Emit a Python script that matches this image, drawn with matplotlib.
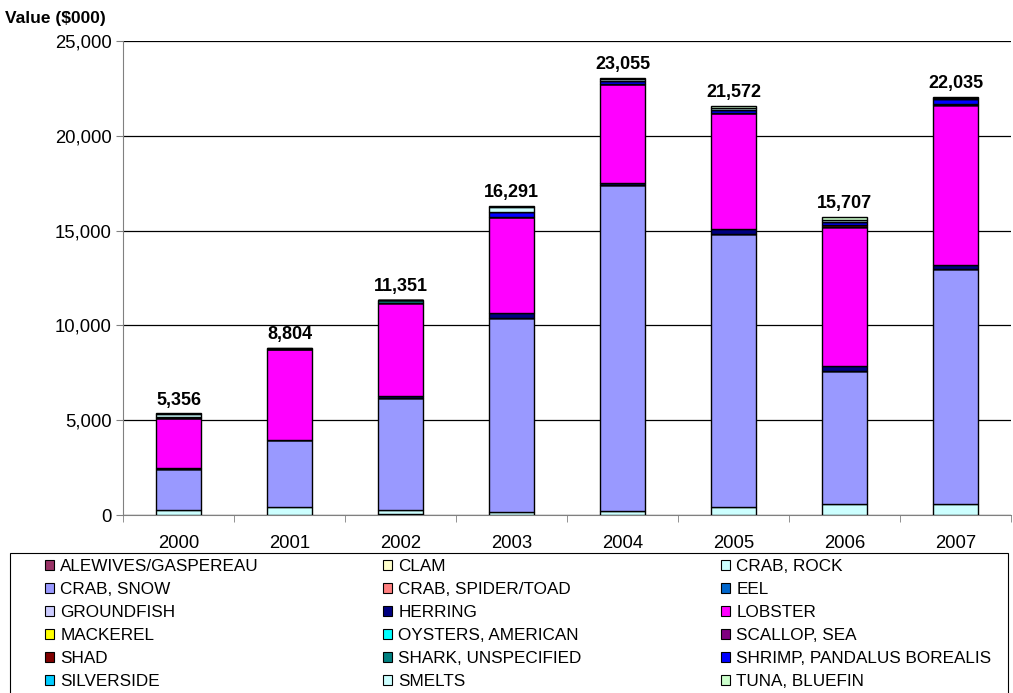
import numpy as np
import matplotlib
matplotlib.use("Agg")
import matplotlib.pyplot as plt
from matplotlib.patches import Patch, Rectangle

plt.rcParams['font.family'] = ['Liberation Sans', 'DejaVu Sans']

years = ['2000', '2001', '2002', '2003', '2004', '2005', '2006', '2007']

# landed value by species, $000
alewives   = [0, 0, 60, 0, 0, 0, 0, 0]
clam       = [0, 0, 0, 0, 0, 0, 0, 0]
crab_rock  = [260, 400, 230, 150, 230, 430, 560, 560]
crab_snow  = [2170, 3540, 5860, 10220, 17170, 14370, 7040, 12440]
crab_spider = [0, 0, 0, 0, 0, 0, 0, 0]
eel        = [0, 0, 0, 0, 0, 0, 0, 0]
groundfish = [0, 0, 0, 0, 0, 0, 0, 0]
herring    = [40, 20, 150, 300, 100, 300, 250, 200]
lobster    = [2660, 4820, 4870, 5060, 5250, 6100, 7350, 8400]
mackerel   = [0, 0, 0, 0, 0, 0, 0, 0]
oysters    = [0, 0, 0, 0, 0, 0, 0, 0]
scallop    = [0, 0, 0, 0, 0, 0, 0, 0]
shad       = [0, 0, 0, 0, 0, 0, 100, 80]
shark      = [0, 0, 181, 0, 0, 0, 0, 0]
shrimp     = [30, 0, 0, 250, 150, 150, 150, 250]
silverside = [0, 0, 0, 0, 0, 0, 0, 0]
smelts     = [150, 24, 0, 250, 105, 100, 120, 60]
tuna       = [46, 0, 0, 61, 50, 122, 137, 45]

species = ['ALEWIVES/GASPEREAU', 'CLAM', 'CRAB, ROCK',
           'CRAB, SNOW', 'CRAB, SPIDER/TOAD', 'EEL',
           'GROUNDFISH', 'HERRING', 'LOBSTER',
           'MACKEREL', 'OYSTERS, AMERICAN', 'SCALLOP, SEA',
           'SHAD', 'SHARK, UNSPECIFIED', 'SHRIMP, PANDALUS BOREALIS',
           'SILVERSIDE', 'SMELTS', 'TUNA, BLUEFIN']
series = [alewives, clam, crab_rock, crab_snow, crab_spider, eel,
          groundfish, herring, lobster, mackerel, oysters, scallop,
          shad, shark, shrimp, silverside, smelts, tuna]
colours = ['#993366', '#FFFFCC', '#CCFFFF', '#9999FF', '#FF8080', '#0066CC',
           '#CCCCFF', '#000080', '#FF00FF', '#FFFF00', '#00FFFF', '#800080',
           '#800000', '#008080', '#0000FF', '#00CCFF', '#CCFFFF', '#CCFFCC']

W, H = 1013, 693
fig = plt.figure(figsize=(W / 100, H / 100), dpi=100)
ax = fig.add_axes([123 / W, 1 - 515 / H, (1011 - 123) / W, (515 - 41) / H])

x = np.arange(len(years))
bottom = np.zeros(len(years))
for vals, col in zip(series, colours):
    vals = np.array(vals, dtype=float)
    ax.bar(x, vals, 0.405, bottom=bottom, color=col, edgecolor='black',
           linewidth=1.0, zorder=3)
    bottom += vals

totals = bottom
for xi, t in zip(x, totals):
    ax.annotate(f"{int(round(t)):,}", (xi, t), xytext=(0, 3.5),
                textcoords='offset points', ha='center', va='bottom',
                fontsize=13, fontweight='bold')

ax.set_xlim(-0.5, len(years) - 0.5)
ax.set_ylim(0, 25000)
ax.set_yticks(np.arange(0, 25001, 5000))
ax.set_yticklabels([f"{v:,}" for v in range(0, 25001, 5000)])
ax.yaxis.grid(True, color='black', linewidth=0.9, zorder=0)
ax.set_axisbelow(True)

ax.set_xticks(x)
ax.set_xticklabels(years)
ax.set_xticks(np.arange(-0.5, len(years), 1.0), minor=True)
ax.tick_params(axis='x', which='major', length=0, pad=14.5, labelsize=13.3)
ax.tick_params(axis='x', which='minor', length=5, color='#808080')
ax.tick_params(axis='y', length=5, color='#808080', labelsize=13.3, pad=3)

for s in ['top', 'right']:
    ax.spines[s].set_visible(False)
ax.spines['left'].set_color('#808080')
ax.spines['bottom'].set_color('#808080')

fig.text(5 / W, 1 - 18 / H, 'Value ($000)', fontsize=12.5, fontweight='bold',
         ha='left', va='center')

# legend box (runs off the bottom edge), three columns filled row by row
fig.patches.append(Rectangle((10 / W, -0.05), (1008 - 10) / W, 1.05 - 553 / H,
                             transform=fig.transFigure, fill=False,
                             edgecolor='black', linewidth=0.8))
col_x = [45, 383, 721]
for c in range(3):
    idx = list(range(c, len(species), 3))
    handles = [Patch(facecolor=colours[i], edgecolor='black', linewidth=0.8)
               for i in idx]
    fig.legend(handles, [species[i] for i in idx], loc='upper left',
               bbox_to_anchor=(col_x[c] / W, 1 - 559 / H), frameon=False,
               fontsize=12.3, handlelength=0.5, handleheight=0.5,
               handletextpad=0.4, labelspacing=0.47, borderpad=0,
               borderaxespad=0)

fig.savefig('out.png', dpi=100)
